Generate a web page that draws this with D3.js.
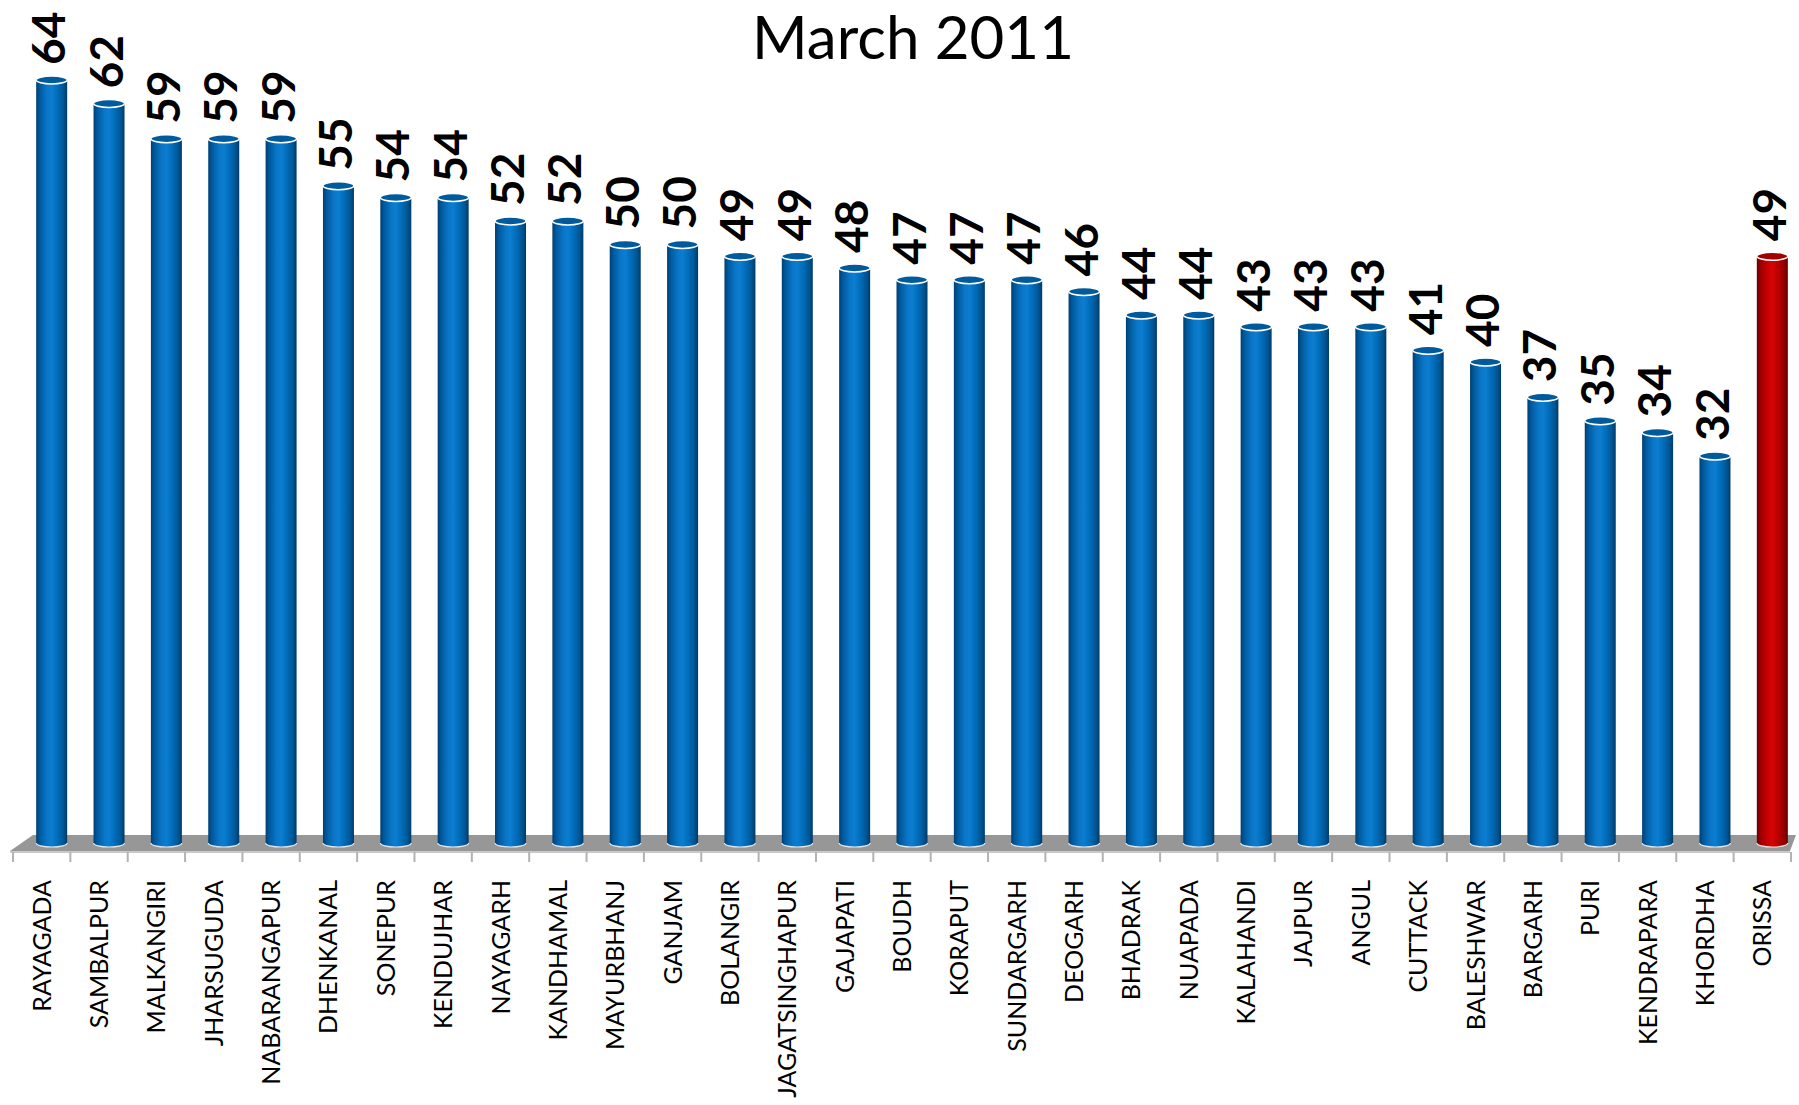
<!DOCTYPE html>
<html>
<head>
<meta charset="utf-8">
<script src="https://cdn.jsdelivr.net/npm/d3@7"></script>
<style>
  html, body { margin: 0; padding: 0; background: #fff; }
  svg { display: block; }
  text { font-family: Lato, "Open Sans", sans-serif; }
</style>
</head>
<body>
<script>
const title = "March 2011";
const categories = ["RAYAGADA","SAMBALPUR","MALKANGIRI","JHARSUGUDA","NABARANGAPUR","DHENKANAL","SONEPUR","KENDUJHAR","NAYAGARH","KANDHAMAL","MAYURBHANJ","GANJAM","BOLANGIR","JAGATSINGHAPUR","GAJAPATI","BOUDH","KORAPUT","SUNDARGARH","DEOGARH","BHADRAK","NUAPADA","KALAHANDI","JAJPUR","ANGUL","CUTTACK","BALESHWAR","BARGARH","PURI","KENDRAPARA","KHORDHA","ORISSA"];
const values = [64,62,59,59,59,55,54,54,52,52,50,50,49,49,48,47,47,47,46,44,44,43,43,43,41,40,37,35,34,32,49];
const highlight = ["ORISSA"];

const W = 1799, H = 1105;
const svg = d3.select("body").append("svg").attr("width", W).attr("height", H);

const x = d3.scaleBand().domain(categories).range([13, 1791]).padding(0);
const y = d3.scaleLinear().domain([0, 64]).range([832, 80]);

const bw = x.bandwidth();
const barW = 31;
const depthShift = 10;
const barBottom = 847;
const ry = 4;

const defs = svg.append("defs");
function grad(id, stops) {
  const g = defs.append("linearGradient").attr("id", id).attr("x1", "0%").attr("x2", "100%").attr("y1", "0%").attr("y2", "0%");
  stops.forEach(s => g.append("stop").attr("offset", s[0]).attr("stop-color", s[1]));
}
grad("blueG", [["0%","#003f73"],["12%","#00599d"],["35%","#0a76c7"],["50%","#0c7dd0"],["70%","#006bb8"],["88%","#005592"],["100%","#003a68"]]);
grad("redG", [["0%","#6a0000"],["12%","#9c0000"],["35%","#c80000"],["50%","#d40404"],["70%","#b80000"],["88%","#930000"],["100%","#5e0000"]]);

// Floor
const floorTop = 835, floorBot = 851;
svg.append("polygon")
  .attr("points", [[x.range()[0] + 20, floorTop], [x.range()[1] + 5, floorTop], [x.range()[1] - 1, floorBot], [x.range()[0] - 3, floorBot]].map(p => p.join(",")).join(" "))
  .attr("fill", "#979797");
svg.append("line")
  .attr("x1", x.range()[0] - 3).attr("x2", x.range()[1] - 1)
  .attr("y1", floorBot + 1).attr("y2", floorBot + 1)
  .attr("stroke", "#c9c9c9").attr("stroke-width", 2);

// Ticks at band boundaries
const tickXs = categories.map(c => x(c)).concat([x.range()[1]]);
svg.append("g").selectAll("line").data(tickXs).join("line")
  .attr("x1", d => d).attr("x2", d => d)
  .attr("y1", floorBot + 1).attr("y2", 862)
  .attr("stroke", "#b3b3b3").attr("stroke-width", 2);

// Bars (cylinders)
const data = categories.map((c, i) => ({ c, v: values[i], hi: highlight.includes(c) }));
const bars = svg.append("g").selectAll("g").data(data).join("g");

bars.append("path")
  .attr("d", d => {
    const cx = x(d.c) + bw / 2 + depthShift;
    const l = cx - barW / 2, r = cx + barW / 2;
    const t = y(d.v), b = barBottom - ry;
    return `M${l},${t} L${l},${b} A${barW / 2},${ry} 0 0 0 ${r},${b} L${r},${t} Z`;
  })
  .attr("fill", d => d.hi ? "url(#redG)" : "url(#blueG)");

// bottom rim highlight
bars.append("path")
  .attr("d", d => {
    const cx = x(d.c) + bw / 2 + depthShift;
    const l = cx - barW / 2, r = cx + barW / 2;
    const b = barBottom - ry;
    return `M${l},${b} A${barW / 2},${ry} 0 0 0 ${r},${b}`;
  })
  .attr("fill", "none").attr("stroke", "#f2f2f2").attr("stroke-width", 1.2).attr("opacity", 0.9);

// top ellipse
bars.append("ellipse")
  .attr("cx", d => x(d.c) + bw / 2 + depthShift)
  .attr("cy", d => y(d.v))
  .attr("rx", barW / 2)
  .attr("ry", ry)
  .attr("fill", d => d.hi ? "#a30000" : "#005a9c")
  .attr("stroke", "#ffffff").attr("stroke-width", 1.5);

// Value labels
bars.append("text")
  .attr("transform", d => `translate(${x(d.c) + bw / 2 + depthShift - 3},${y(d.v) - 15}) rotate(-90)`)
  .attr("dy", "0.36em")
  .attr("text-anchor", "start")
  .attr("font-weight", "bold")
  .attr("font-size", 46)
  .attr("fill", "#000")
  .text(d => d.v);

// Category labels
svg.append("g").selectAll("text").data(categories).join("text")
  .attr("transform", c => `translate(${x(c) + bw / 2},880) rotate(-90)`)
  .attr("dy", "0.36em")
  .attr("text-anchor", "end")
  .attr("font-size", 25)
  .attr("fill", "#000")
  .text(c => c);

// Title
svg.append("text")
  .attr("x", 913).attr("y", 59)
  .attr("text-anchor", "middle")
  .attr("font-size", 60)
  .attr("fill", "#000")
  .text(title);
</script>
</body>
</html>
